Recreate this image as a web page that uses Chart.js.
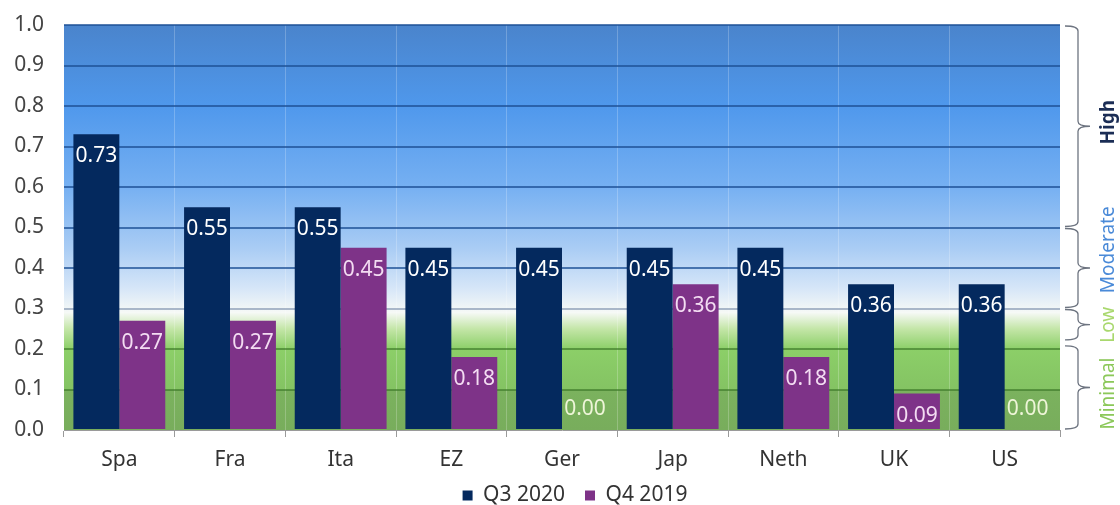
<!DOCTYPE html>
<html>
<head>
<meta charset="utf-8">
<script src="https://cdn.jsdelivr.net/npm/chart.js@4.4.1/dist/chart.umd.min.js"></script>
<style>
  html, body { margin: 0; padding: 0; background: #fff; }
  #wrap { width: 1120px; height: 505px; position: relative; }
</style>
</head>
<body>
<div id="wrap"><canvas id="chart"></canvas></div>
<script>
const categories = ['Spa', 'Fra', 'Ita', 'EZ', 'Ger', 'Jap', 'Neth', 'UK', 'US'];
const q3_2020 = [0.73, 0.55, 0.55, 0.45, 0.45, 0.45, 0.45, 0.36, 0.36];
const q4_2019 = [0.27, 0.27, 0.45, 0.18, 0.00, 0.36, 0.18, 0.09, 0.00];
const seriesNames = ['Q3 2020', 'Q4 2019'];
// risk bands shown with braces on the right: [label, from, to, where the label sits]
const bands = [
    ['High', 0.5, 1.0, 0.76],
    ['Moderate', 0.3, 0.5, 0.445],
    ['Low', 0.22, 0.3, 0.26],
    ['Minimal', 0.0, 0.21, 0.09]
];
const bandColors = ['#1b2d55', '#4a8ad8', '#a9d86e', '#8cc85a'];

const FONT = '"Noto Sans", "Open Sans", sans-serif';

// gradient background behind the plot
const backgroundPlugin = {
    id: 'bgGradient',
    beforeLayout(chart) {
        // fix the legend strip height so the plot keeps its size
        const lg = chart.legend;
        if (lg && !lg._fixed) {
            const fit = lg.fit;
            lg.fit = function () { fit.call(this); this.height = 26; };
            lg._fixed = true;
        }
    },
    afterLayout(chart) {
        // the legend sits a little right of centre in the original,
        // and is let to grow upwards over the empty part of the x axis
        const lg = chart.legend;
        lg.left += 45;
        lg.right += 45;
        lg.top -= 14;
        lg.height += 14;
    },
    beforeDraw(chart) {
        const { ctx, chartArea: a, scales: { y } } = chart;
        const g = ctx.createLinearGradient(0, a.top, 0, a.bottom);
        const stop = (v, c) => {
            const p = (y.getPixelForValue(v) - a.top) / (a.bottom - a.top);
            g.addColorStop(Math.min(1, Math.max(0, p)), c);
        };
        stop(1.0, '#4a84cc');
        stop(0.8, '#4f98ec');
        stop(0.6, '#76b0f2');
        stop(0.45, '#a9ccf4');
        stop(0.35, '#d6e6f8');
        stop(0.29, '#f6f9f6');
        stop(0.25, '#c4e6a8');
        stop(0.2, '#8ccf68');
        stop(0.1, '#84c363');
        stop(0.0999, '#7bb25e');
        stop(0.0, '#78ad5c');
        ctx.save();
        ctx.fillStyle = g;
        ctx.fillRect(a.left, a.top, a.right - a.left, a.bottom - a.top);
        ctx.restore();
    }
};

// value labels inside the bars, and braces at the right
const labelPlugin = {
    id: 'valueLabels',
    afterDatasetsDraw(chart) {
        const { ctx } = chart;
        ctx.save();
        ctx.font = '21px ' + FONT;
        ctx.textAlign = 'center';
        ctx.textBaseline = 'middle';
        chart.data.datasets.forEach((ds, i) => {
            const meta = chart.getDatasetMeta(i);
            meta.data.forEach((bar, j) => {
                const v = ds.data[j];
                let yPos = bar.y + 22;
                let color = i === 0 ? '#ffffff' : '#f3dcf2';
                if (v === 0) {
                    yPos = bar.base - 21;
                    color = '#eef5d8';
                }
                ctx.fillStyle = color;
                ctx.fillText(v.toFixed(2), bar.x, yPos);
            });
        });
        ctx.restore();
    },
    afterDraw(chart) {
        const { ctx, chartArea: a, scales: { y } } = chart;
        ctx.save();
        ctx.strokeStyle = '#6d7480';
        ctx.lineWidth = 1.3;
        const x0 = a.right + 5, xm = a.right + 18, xt = a.right + 30;
        bands.forEach((b, i) => {
            const top = y.getPixelForValue(b[2]) + 1;
            const bot = y.getPixelForValue(b[1]) - 1;
            const mid = (top + bot) / 2;
            const r = 5;
            ctx.beginPath();
            ctx.moveTo(x0, top);
            ctx.quadraticCurveTo(xm, top, xm, top + r);
            ctx.lineTo(xm, mid - r);
            ctx.quadraticCurveTo(xm, mid, xt, mid);
            ctx.quadraticCurveTo(xm, mid, xm, mid + r);
            ctx.lineTo(xm, bot - r);
            ctx.quadraticCurveTo(xm, bot, x0, bot);
            ctx.stroke();

            ctx.save();
            ctx.translate(a.right + 49, y.getPixelForValue(b[3]));
            ctx.rotate(-Math.PI / 2);
            ctx.font = (i === 0 ? 'bold ' : '') + '19px ' + FONT;
            ctx.fillStyle = bandColors[i];
            ctx.textAlign = 'center';
            ctx.textBaseline = 'middle';
            ctx.fillText(b[0], 0, 0);
            ctx.restore();
        });
        ctx.restore();
    }
};

new Chart(document.getElementById('chart'), {
    type: 'bar',
    data: {
        labels: categories,
        datasets: [{
            label: seriesNames[0],
            data: q3_2020,
            backgroundColor: '#04295e'
        }, {
            label: seriesNames[1],
            data: q4_2019,
            backgroundColor: '#7e3388'
        }]
    },
    options: {
        responsive: true,
        maintainAspectRatio: false,
        animation: false,
        layout: { padding: { top: 25, right: 60, left: 0, bottom: 0 } },
        datasets: {
            bar: { categoryPercentage: 0.83, barPercentage: 1.0 }
        },
        scales: {
            x: {
                afterFit(scale) { scale.height = 49; },
                grid: {
                    color: 'rgba(255,255,255,0.22)',
                    tickColor: '#9a9a9a',
                    tickLength: 7,
                    drawOnChartArea: true
                },
                border: { color: '#9a9a9a' },
                ticks: { color: '#333', font: { family: FONT, size: 21 }, padding: 10 }
            },
            y: {
                min: 0,
                max: 1,
                afterFit(scale) {
                    scale.width = 64;
                    scale.paddingTop = 0;
                    scale.paddingBottom = 0;
                },
                ticks: {
                    stepSize: 0.1,
                    color: '#444',
                    padding: 20,
                    font: { family: FONT, size: 21 },
                    callback: v => v.toFixed(1)
                },
                grid: {
                    drawTicks: false,
                    lineWidth: 2,
                    color: ctx => {
                        const v = ctx.tick.value;
                        if (v === 0) return 'rgba(0,0,0,0)';
                        if (v > 0.31) return 'rgba(30,80,150,0.75)';
                        if (v > 0.29) return 'rgba(120,140,170,0.6)';
                        return 'rgba(60,120,40,0.65)';
                    }
                },
                border: { display: false }
            }
        },
        plugins: {
            legend: {
                position: 'bottom',
                labels: {
                    boxWidth: 10,
                    boxHeight: 10,
                    padding: 20,
                    color: '#333',
                    font: { family: FONT, size: 21 }
                }
            },
            tooltip: { enabled: false }
        }
    },
    plugins: [backgroundPlugin, labelPlugin]
});
</script>
</body>
</html>
